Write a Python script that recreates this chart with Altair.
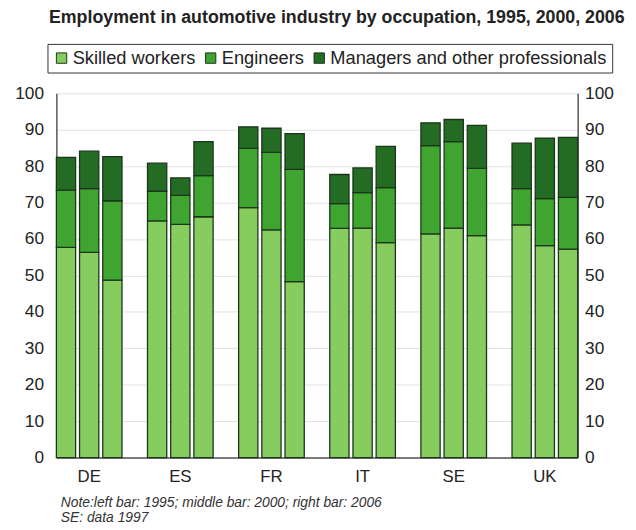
import altair as alt
import pandas as pd

countries = ["DE", "ES", "FR", "IT", "SE", "UK"]
years = ["1995", "2000", "2006"]
categories = ["Skilled workers", "Engineers", "Managers and other professionals"]
colors = ["#86cc5f", "#3fa530", "#246c23"]

# segment values, per country, per year (left, middle, right bar)
skilled = {
    "DE": [57.7, 56.3, 48.7],
    "ES": [65.0, 64.0, 66.1],
    "FR": [68.6, 62.5, 48.3],
    "IT": [62.9, 63.0, 59.0],
    "SE": [61.4, 63.0, 60.9],
    "UK": [63.9, 58.2, 57.2],
}
engineers = {
    "DE": [15.7, 17.5, 21.8],
    "ES": [8.1, 8.0, 11.3],
    "FR": [16.3, 21.3, 30.8],
    "IT": [6.8, 9.7, 15.1],
    "SE": [24.2, 23.7, 18.5],
    "UK": [9.9, 12.9, 14.2],
}
managers = {
    "DE": [9.0, 10.3, 12.1],
    "ES": [7.7, 4.8, 9.3],
    "FR": [5.9, 6.6, 9.8],
    "IT": [8.0, 6.8, 11.3],
    "SE": [6.3, 6.1, 11.8],
    "UK": [12.5, 16.6, 16.5],
}
y_ticks = [0, 10, 20, 30, 40, 50, 60, 70, 80, 90, 100]
title_text = "Employment in automotive industry by occupation, 1995, 2000, 2006"
note_lines = ["Note:left bar: 1995; middle bar: 2000; right bar: 2006", "SE: data 1997"]

rows = []
for c in countries:
    for i, yr in enumerate(years):
        for k, (cat, series) in enumerate(zip(categories, [skilled, engineers, managers])):
            rows.append({"country": c, "year": yr, "category": cat, "order": k, "value": series[c][i]})
df = pd.DataFrame(rows)

FONT = "Liberation Sans"

x_enc = alt.X(
    "country:N",
    sort=countries,
    scale=alt.Scale(paddingInner=0.28, paddingOuter=0.0),
    axis=alt.Axis(
        title=note_lines,
        titleFontStyle="italic",
        titleFontWeight="normal",
        titleFontSize=14,
        titleFont=FONT,
        titleColor="#333",
        titleAnchor="start",
        titleAlign="left",
        titleBaseline="top",
        titleX=4,
        titleY=39,
        titleLineHeight=15,
        labelFontSize=17,
        labelFont=FONT,
        labelColor="#222",
        labelPadding=11,
        ticks=False,
        domainColor="#555",
        domainWidth=1.5,
        labelAngle=0,
    ),
)
xo_enc = alt.XOffset("year:N", sort=years, scale=alt.Scale(paddingInner=0.17, paddingOuter=0.0))
color_enc = alt.Color(
    "category:N",
    sort=categories,
    scale=alt.Scale(domain=categories, range=colors),
    legend=alt.Legend(
        title=None,
        orient="none",
        legendX=-9,
        legendY=-50,
        direction="horizontal",
        symbolType="square",
        symbolSize=110,
        symbolStrokeColor="#1a331a",
        symbolStrokeWidth=1,
        labelFontSize=18.5,
        labelFont=FONT,
        labelColor="#222",
        labelLimit=400,
        strokeColor="#333",
        padding=5,
        columnPadding=6,
        labelOffset=2,
    ),
)
y_scale = alt.Scale(domain=[0, 100])


def y_enc(orient, pad, grid):
    return alt.Y(
        "value:Q",
        stack="zero",
        scale=y_scale,
        axis=alt.Axis(
            title=None,
            orient=orient,
            values=y_ticks,
            labelFontSize=17.5,
            labelFont=FONT,
            labelColor="#222",
            labelPadding=pad,
            ticks=False,
            domainColor="#555",
            domainWidth=1.5,
            grid=grid,
            gridColor="#e2e2e2",
        ),
    )


bars = alt.Chart(df).mark_bar(stroke="#1b361b", strokeWidth=1.3).encode(
    x=x_enc,
    xOffset=xo_enc,
    y=y_enc("left", 13, True),
    color=color_enc,
    order=alt.Order("order:Q"),
)

right = alt.Chart(df).mark_bar(opacity=0).encode(
    x=x_enc,
    xOffset=xo_enc,
    y=y_enc("right", 7, False),
    order=alt.Order("order:Q"),
)

chart = (
    alt.layer(bars, right)
    .resolve_axis(y="independent")
    .properties(
        width=528,
        height=369,
        autosize=alt.AutoSizeParams(type="none"),
        padding={"left": 49, "top": 83, "right": 51, "bottom": 70},
        title=alt.TitleParams(
            title_text,
            font=FONT,
            fontSize=18,
            fontWeight="bold",
            color="#222",
            anchor="middle",
            frame="group",
            dx=20,
            offset=17,
        ),
    )
    .configure_view(stroke=None)
)

chart.save("out.html", embed_options={"renderer": "svg", "actions": False})
